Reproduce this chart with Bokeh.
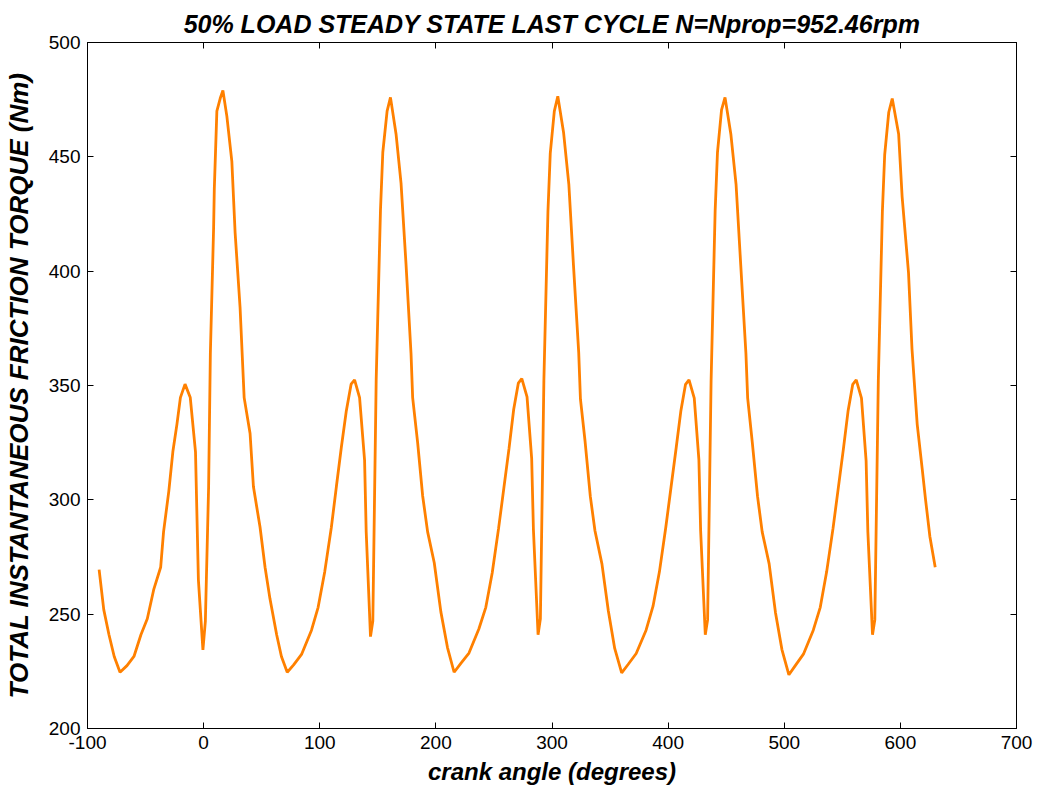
from bokeh.plotting import figure
from bokeh.models import LinearAxis, FixedTicker, Range1d
from bokeh.embed import file_html
from bokeh.resources import INLINE

# ---- data ----
angle_c1 = [-90, -86, -81.5, -77, -72, -66, -60, -54, -48.5, -43, -37, -34.5, -30, -26.5, -23, -20, -16, -11.5, -7, -4.5, -0.6, 1.5, 4.3, 5.8, 8.6, 9.2, 11.4, 14.3, 16.6, 20, 24.3, 27.1, 31.4, 34.9, 40, 42.9, 48.6, 52.9, 57.1, 62.9, 67, 72]
torque_c1 = [269.5, 252, 241, 231.5, 224.6, 227.5, 231.5, 241, 248, 260.7, 270.5, 286, 303.7, 321, 333, 344.7, 350.6, 344.7, 321, 265, 234.4, 247, 305.7, 364, 419, 436, 470, 475.6, 479, 467.8, 448, 417, 384, 344.7, 329, 305.7, 288, 270.5, 256.8, 241, 231.5, 224.6]

angle_c2 = [77.5, 84.3, 92.9, 98.6, 104.3, 110, 114.3, 118.6, 122.9, 127, 130, 134.3, 138.6, 140, 143.7, 145.7, 148.6, 152.3, 154.3, 158, 160.9, 165.7, 170, 174.3, 178.6, 180, 184.3, 188.6, 192.9, 198.6, 204.3, 210, 215.7]
torque_c2 = [227.8, 232.4, 243, 253, 268.6, 288, 305.7, 323, 339, 350.6, 352.5, 344.7, 317.4, 286, 240.2, 247, 352.5, 426.8, 452, 470, 476, 460, 438.5, 403, 364, 344.7, 325, 301.8, 286, 272.5, 251, 235.4, 224.6]

angle_c3 = [221.5, 228.5, 237, 243, 248.5, 254, 258.5, 263, 267, 271, 274, 278.5, 282.5, 284, 288, 290, 293, 296.5, 298.5, 302, 305, 310, 314.5, 318.5, 323, 324.5, 328.5, 333, 337, 343, 348.5, 354, 360]
torque_c3 = [228.5, 233, 243.5, 253, 268, 287.5, 305, 322.5, 339.5, 351, 353, 345, 318, 287, 241, 248, 352, 426, 451.5, 470, 476.5, 460.5, 438, 402.5, 364.5, 344, 325.5, 301.5, 286.5, 272, 251.5, 235, 224.3]

angle_c4 = [365.5, 372.5, 381, 387, 392.5, 398, 402.5, 407, 411, 415, 418, 422.5, 426.5, 428, 432, 434, 437, 440.5, 442.5, 446, 449, 454, 458.5, 462.5, 467, 468.5, 472.5, 477, 481, 487, 492.5, 498, 504]
torque_c4 = [228, 232.8, 243, 253.5, 268.5, 288, 305.5, 323, 339, 350.5, 352.5, 344.5, 317.5, 286.5, 241, 247.5, 352, 426.5, 452, 470.5, 476, 460, 438, 403, 364, 344.5, 325, 301.5, 286, 272, 250.5, 234.5, 223.5]

angle_c5 = [509.5, 516.5, 525, 531, 536.5, 542, 546.5, 551, 555, 559, 562, 566.5, 570.5, 572, 576, 578, 581, 584.5, 586.5, 590, 593, 598.5, 601.5, 607, 610, 614.5, 618.8, 621.7, 625.4, 630]
torque_c5 = [227.5, 232.5, 243, 253, 268.5, 287.5, 305, 322.5, 339, 350.5, 352.5, 344.5, 317, 286, 241, 247.5, 352, 426, 451, 469.5, 475.5, 460, 432.6, 399.4, 366, 333, 313.5, 300, 284, 270.5]

x_ticks = [-100, 0, 100, 200, 300, 400, 500, 600, 700]
y_ticks = [200, 250, 300, 350, 400, 450, 500]

title_text = "50% LOAD STEADY STATE LAST CYCLE N=Nprop=952.46rpm"
x_label = "crank angle (degrees)"
y_label = "TOTAL INSTANTANEOUS FRICTION TORQUE (Nm)"

angles = angle_c1 + angle_c2 + angle_c3 + angle_c4 + angle_c5
torques = torque_c1 + torque_c2 + torque_c3 + torque_c4 + torque_c5

FONT = "Liberation Sans"

p = figure(width=1040, height=789, output_backend="svg", toolbar_location=None,
           x_range=Range1d(-100, 700), y_range=Range1d(200, 500),
           min_border_left=87, min_border_right=24, min_border_top=42, min_border_bottom=61,
           title=title_text)

p.title.text_font = FONT
p.title.text_font_size = "25px"
p.title.text_font_style = "bold italic"
p.title.align = "center"
p.title.text_color = "black"
p.title.offset = 0
p.title.standoff = 9

p.line(angles, torques, line_color="#FF8000", line_width=2.8)

p.xgrid.visible = False
p.ygrid.visible = False
p.outline_line_color = "black"
p.outline_line_width = 1
p.background_fill_color = "white"
p.border_fill_color = "white"

for ax in p.xaxis:
    ax.ticker = FixedTicker(ticks=x_ticks)
    ax.axis_label = x_label
    ax.major_label_overrides = {t: str(t) for t in x_ticks}
for ax in p.yaxis:
    ax.ticker = FixedTicker(ticks=y_ticks)
    ax.axis_label = y_label

for ax in list(p.xaxis) + list(p.yaxis):
    ax.major_tick_in = 6
    ax.major_tick_out = 0
    ax.minor_tick_in = 0
    ax.minor_tick_out = 0
    ax.axis_line_color = "black"
    ax.major_tick_line_color = "black"
    ax.major_label_text_font = FONT
    ax.major_label_text_font_size = "19px"
    ax.major_label_text_color = "black"
    ax.axis_label_text_font = FONT
    ax.axis_label_text_font_style = "bold italic"
    ax.axis_label_text_color = "black"

p.xaxis.major_label_standoff = 7
p.yaxis.major_label_standoff = 7
p.xaxis.axis_label_text_font_size = "24px"
p.yaxis.axis_label_text_font_size = "26px"
p.xaxis.axis_label_standoff = 6
p.yaxis.axis_label_standoff = 12

top_ax = LinearAxis(ticker=FixedTicker(ticks=x_ticks), major_label_text_font_size="0px",
                    major_tick_in=6, major_tick_out=0, minor_tick_in=0, minor_tick_out=0,
                    major_label_text_alpha=0)
right_ax = LinearAxis(ticker=FixedTicker(ticks=y_ticks), major_label_text_font_size="0px",
                      major_tick_in=6, major_tick_out=0, minor_tick_in=0, minor_tick_out=0,
                      major_label_text_alpha=0)
p.add_layout(top_ax, "above")
p.add_layout(right_ax, "right")

open("out.html", "w").write(file_html(p, INLINE))
